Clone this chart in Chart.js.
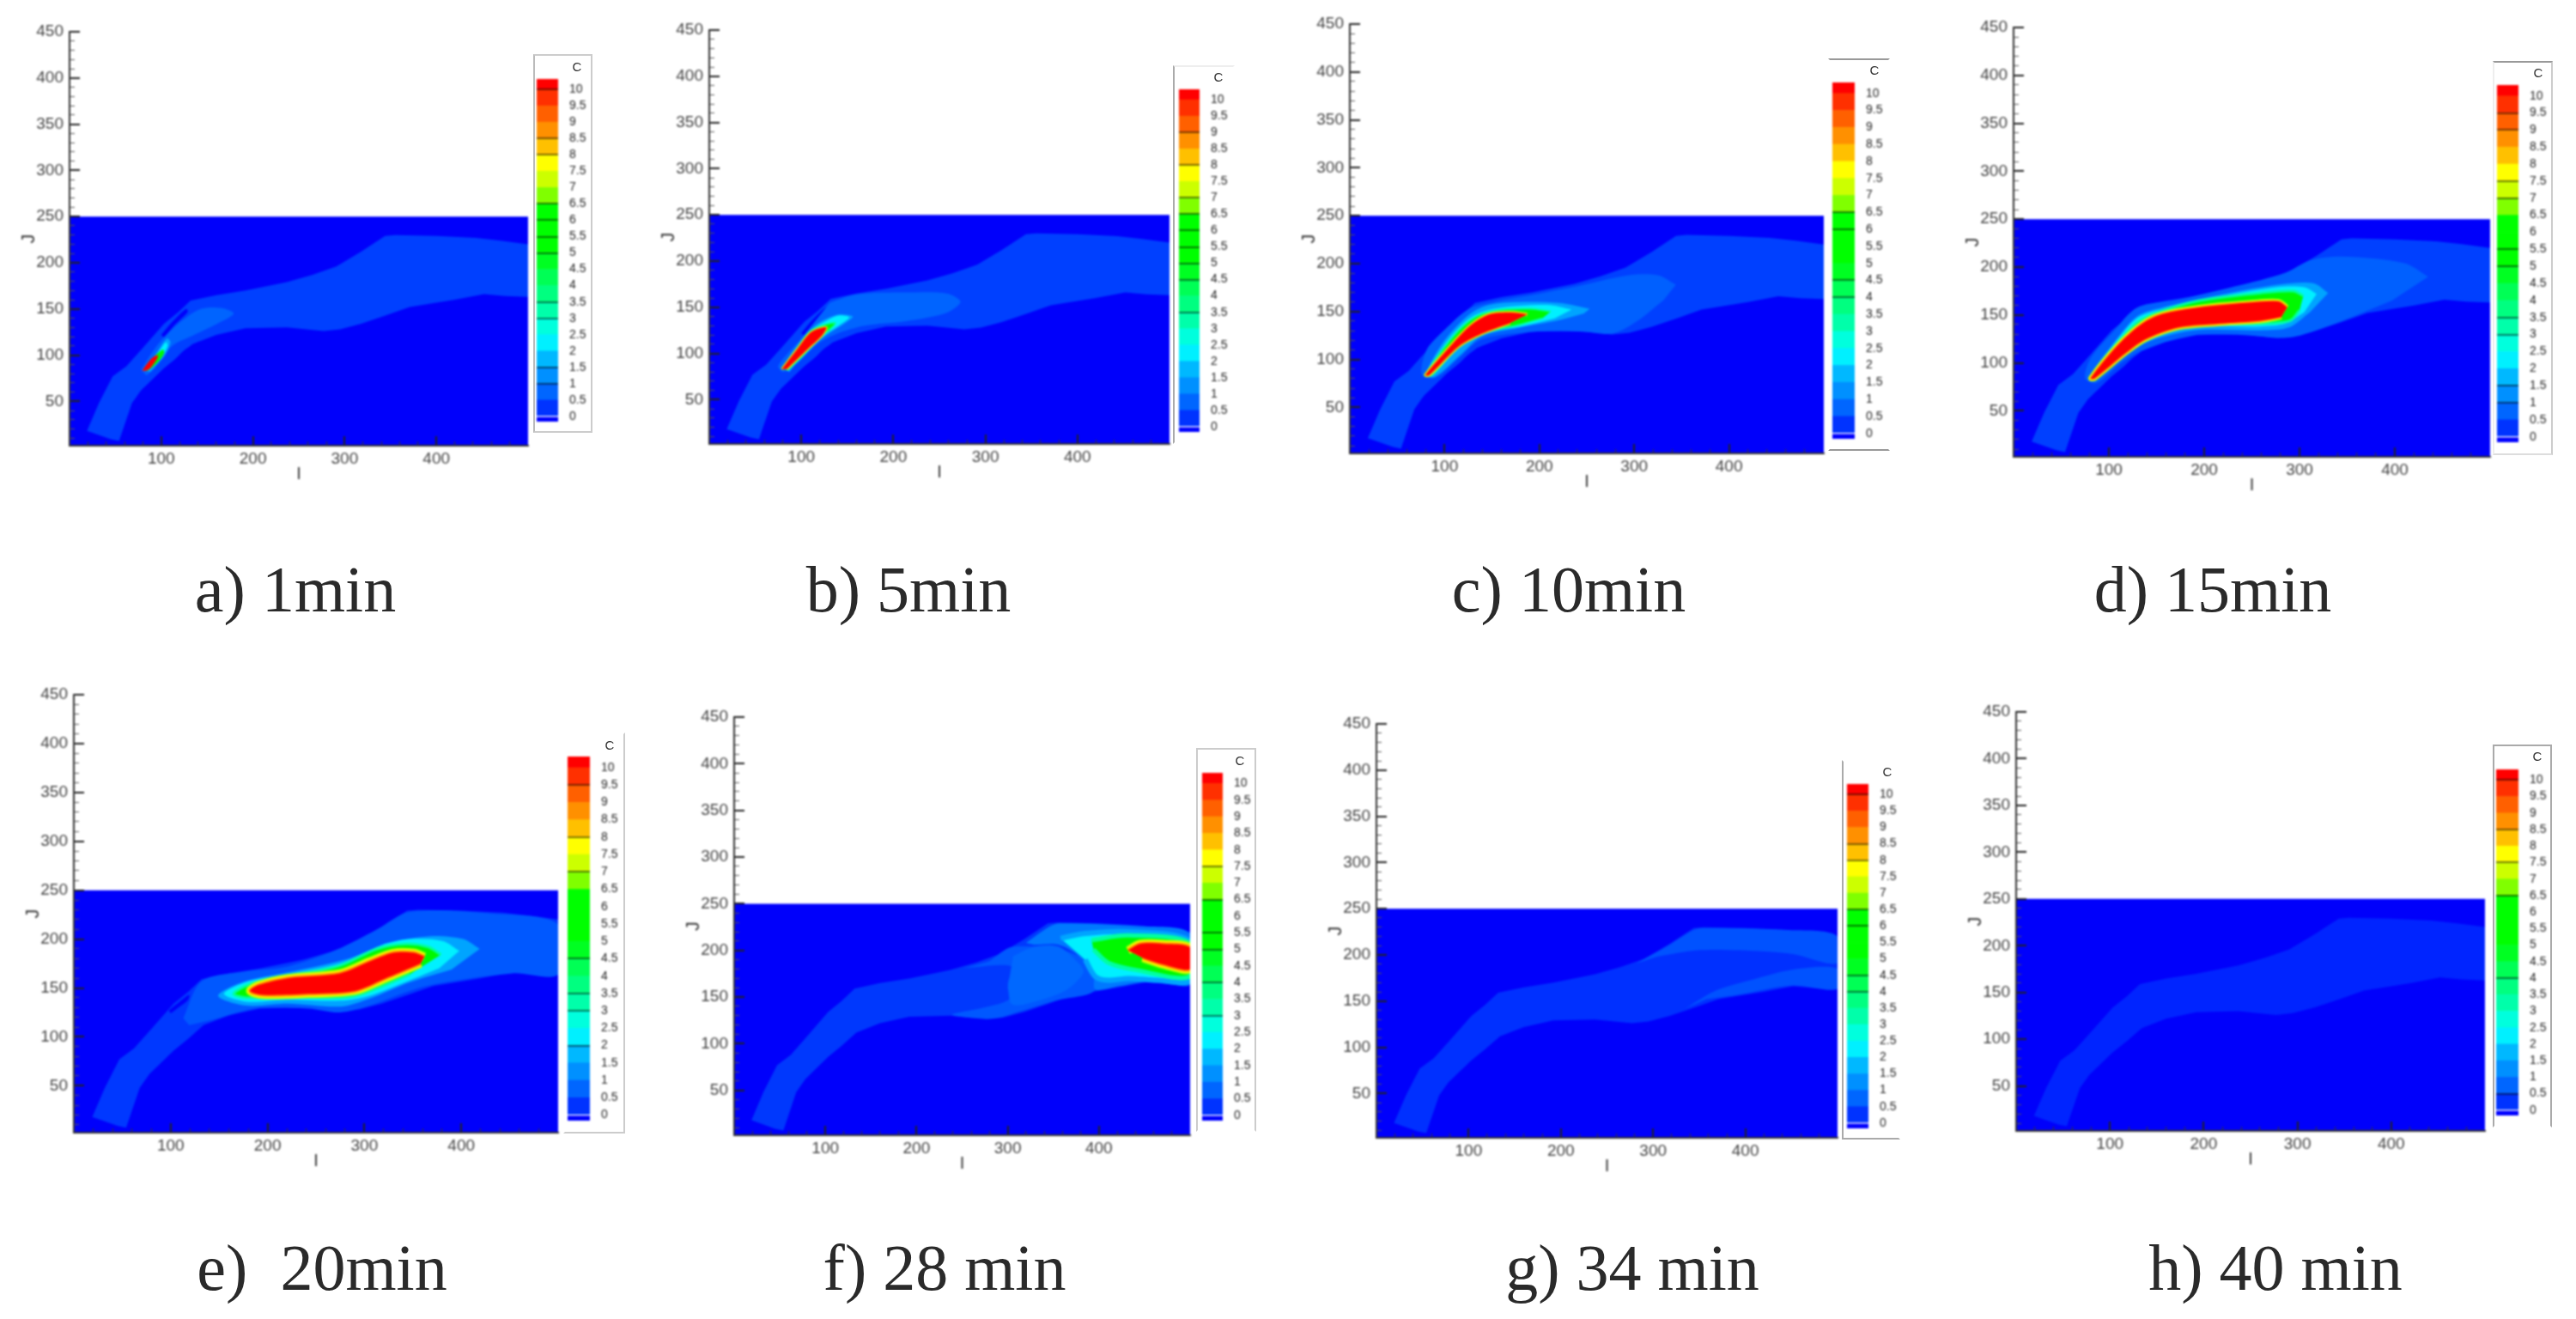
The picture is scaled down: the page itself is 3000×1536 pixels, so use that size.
<!DOCTYPE html>
<html><head><meta charset="utf-8">
<style>
html,body{margin:0;padding:0;background:#fff;width:3000px;height:1536px;overflow:hidden}
canvas{position:absolute;filter:blur(1.1px)}
.cap{position:absolute;font-family:"Liberation Serif",serif;font-size:76px;color:#2a2a2a;white-space:pre;transform:translate(-50%,-50%);line-height:1;filter:blur(.5px)}
.c{position:absolute;font-family:"Liberation Sans",sans-serif;font-size:15px;color:#333;transform:translate(-50%,-50%);filter:blur(.6px)}
.frame{position:absolute;box-sizing:border-box;filter:blur(.6px)}
</style>
<script src="https://cdn.jsdelivr.net/npm/chart.js@4/dist/chart.umd.min.js"></script>
</head><body>
<script>
// ---------- axis values ----------
const X_TICKS=[100,200,300,400];
const X_MINOR=[20,40,60,80,120,140,160,180,220,240,260,280,320,340,360,380,420,440,460,480];
const Y_TICKS=[50,100,150,200,250,300,350,400,450];
const Y_MINOR=[10,20,30,40,60,70,80,90,110,120,130,140,160,170,180,190,210,220,230,240,260,270,280,290,310,320,330,340,360,370,380,390,410,420,430,440];
const C_TICKS=[0,0.5,1,1.5,2,2.5,3,3.5,4,4.5,5,5.5,6,6.5,7,7.5,8,8.5,9,9.5,10];
// ---------- colour bar ----------
const BAND_LOWS=[-0.16,0,0.5,1,1.5,2,2.5,3,3.5,4,4.5,5,5.5,6,6.5,7,7.5,8,8.5,9,9.5,10];
const BAND_HIGHS=[0,0.5,1,1.5,2,2.5,3,3.5,4,4.5,5,5.5,6,6.5,7,7.5,8,8.5,9,9.5,10,10.32];
const BAND_COLORS=['#0000ff','#0033ff','#0066ff','#0090ff','#00b8ff','#00f0ff','#00ffdd','#00ffaa','#00ff80','#00ff55','#00ff22','#00ff00','#00ff00','#00ff00','#80ff00','#ccff00','#ffff00','#ffc000','#ff9000','#ff6000','#ff3000','#ff0000'];
// dark contour lines visible in each colour bar
const DARK_A=[10,8.5,8,6.5,6,5.5,5,3.5,3,1.5,1];
const DARK_B=[9,8,7,6.5,6,5.5,5,4.5,3.5];
const DARK_C=[6.5,6,4.5,4];
const DARK_D=[9.5,9,7.5,7,5.5,5,3.5,3,1.5,1];
const DARK_E=[9.5,8,7,4.5,3.5,3,2];
const DARK_F=[7.5,6.5,5.5,5,4,3];
const DARK_G=[10,8.5,8,6.5,6,4.5,4];
const DARK_H=[10,8.5,7.5,6.5,4,0.5];
// ---------- contour outlines, [I,J] ----------
const domain=[[0,2],[500,2],[500,250],[0,250]];
const plume=[[19,18],[32,48],[47,77],[62,88],[80,108],[103,134],[118,146],[132,159],[160,165],[192,170],[237,179],[265,187],[291,196],[318,212],[344,229],[355,230],[400,229],[443,227],[470,224],[500,220],[500,163],[475,164],[452,166],[420,160],[371,152],[345,143],[318,134],[295,128],[277,126],[237,130],[192,129],[160,122],[134,112],[118,98],[103,86],[78,62],[68,48],[54,7],[45,9]];
const gapUpper=[[100,122],[112,136],[127,150],[129,147],[114,132],[103,119]];
const gapLower=[[112,92],[126,106],[142,115],[138,110],[124,100],[114,88]];

const a_blob=[[78,84],[88,100],[100,116],[121,136],[143,150],[166,151],[179,145],[161,134],[134,121],[112,110],[93,86],[84,78]];
const a_light=[[82,84],[96,104],[106,118],[110,114],[104,100],[88,82]];
const a_cyan=[[82,85],[96,102],[105,114],[107,110],[100,98],[86,84]];
const a_green=[[80,84],[92,98],[102,106],[103,102],[96,92],[85,83]];
const a_red=[[79,83],[89,96],[96,100],[96,97],[88,86],[83,83]];

const b_blob=[[131,155],[160,164],[214,166],[258,165],[273,156],[258,144],[214,135],[169,130],[138,121],[116,109],[93,87],[80,80],[75,87],[100,116]];
const b_light=[[79,84],[92,104],[108,124],[124,136],[140,142],[156,140],[148,133],[132,123],[117,112],[100,96],[87,80]];
const b_cyan=[[79,84],[95,105],[110,124],[125,134],[140,141],[152,139],[142,131],[127,121],[112,107],[95,90],[85,82]];
const b_green=[[79,83],[96,106],[110,124],[125,131],[137,133],[130,125],[118,116],[104,100],[85,82]];
const b_red=[[79,83],[96,105],[111,123],[127,128],[122,119],[107,105],[84,83]];

const c_blob=[[344,178],[325,188],[294,188],[238,176],[191,167],[152,160],[126,153],[100,131],[81,110],[76,84],[91,81],[117,103],[139,121],[195,129],[247,129],[277,127],[303,140],[331,162]];
const c_light=[[253,153],[221,159],[178,160],[147,157],[126,147],[100,120],[80,84],[90,82],[117,105],[139,124],[178,133],[221,141],[247,148]];
const c_cyan=[[234,152],[208,157],[152,153],[128,144],[105,122],[80,84],[88,84],[130,126],[178,134],[216,143]];
const c_green=[[212,150],[190,153],[152,151],[130,143],[109,124],[80,84],[87,84],[113,112],[139,127],[178,136],[203,143]];
const c_red=[[187,147],[169,149],[147,147],[128,136],[109,117],[80,84],[84,84],[115,114],[139,127],[169,138]];

const d_blob=[[435,190],[410,204],[345,211],[311,207],[285,194],[233,180],[173,166],[130,158],[104,132],[81,105],[75,84],[87,79],[113,100],[139,115],[190,129],[242,129],[281,126],[302,129],[345,144],[397,165]];
const d_light=[[330,173],[315,183],[281,182],[216,171],[156,158],[130,149],[109,126],[81,86],[117,108],[143,123],[190,134],[259,134],[289,137],[311,153]];
const d_cyan=[[318,172],[305,179],[276,179],[216,169],[156,156],[130,147],[109,124],[81,85],[115,108],[135,122],[156,132],[195,138],[259,138],[285,141],[305,153]];
const d_green=[[304,170],[294,175],[259,173],[195,165],[147,151],[126,139],[81,85],[130,122],[156,135],[199,141],[259,141],[290,144],[300,155]];
const d_red=[[287,158],[278,164],[250,163],[195,158],[156,151],[135,141],[109,118],[81,84],[85,84],[117,110],[139,125],[173,137],[216,141],[259,144],[281,148]];

const e_blob=[[113,119],[132,157],[178,167],[221,172],[271,189],[313,210],[347,228],[432,226],[500,215],[500,164],[453,165],[364,152],[305,132],[275,125],[242,129],[187,129],[145,118],[119,112]];
const e_light=[[419,190],[402,200],[368,203],[326,196],[280,179],[221,166],[174,156],[149,142],[178,132],[221,134],[276,131],[305,139],[347,156],[390,169]];
const e_cyan=[[398,188],[381,198],[347,200],[318,194],[275,175],[221,164],[178,156],[155,144],[178,136],[221,138],[275,137],[305,142],[347,158],[377,170]];
const e_green=[[379,184],[366,192],[343,195],[313,190],[275,173],[221,162],[182,154],[165,144],[178,140],[221,141],[275,140],[301,145],[347,164]];
const e_red=[[362,182],[351,186],[330,186],[305,177],[275,165],[221,160],[191,153],[182,147],[195,143],[242,144],[290,147],[320,159],[358,175]];
const e_gapUpper=[[98,127],[108,135],[119,143],[118,138],[108,130],[100,124]];
const e_gapLower=[[131,102],[140,111],[152,115],[142,108],[134,100]];

const f_mid=[[252,181],[304,183],[300,164],[302,148],[275,139],[239,131],[284,127],[311,134],[351,146],[396,158],[378,194],[306,204],[279,188]];
const f_blob=[[306,194],[329,204],[356,204],[378,186],[383,176],[365,158],[333,146],[305,142],[300,160]];
const f_hull=[[320,208],[345,225],[356,229],[441,226],[500,218],[500,164],[477,164],[455,167],[423,162],[396,158],[394,174],[378,194],[356,206],[329,206]];
const f_cyan=[[358,213],[383,218],[432,220],[500,210],[500,168],[464,168],[432,170],[410,168],[396,172],[385,190]];
const f_green=[[392,211],[432,216],[500,208],[500,172],[441,179],[410,187],[394,201]];
const f_red=[[432,200],[445,207],[470,207],[500,203],[500,180],[470,185],[448,192]];

const g_upper=[[282,191],[313,208],[342,226],[353,229],[447,227],[499,221],[500,191],[451,201],[393,205],[349,205],[304,198]];
const g_lower=[[335,142],[367,161],[407,173],[451,184],[500,185],[500,163],[451,167],[393,157],[358,152]];

// ---------- where each panel sits on the page ----------
const PANELS=[
 {id:'a',L:81,R:615,T:37,B:519,bar:[625,650,92,491],dark:DARK_A,cap:'a) 1min',capX:344,capY:686,cX:672,cY:77,frame:[621,63,69,441,'#bbb','#ccc','#ccc','#ccc']},
 {id:'b',L:826,R:1362,T:35,B:517,bar:[1373,1397,104,503],dark:DARK_B,cap:'b) 5min',capX:1058,capY:686,cX:1419,cY:89,frame:[1366,76,72,441,'#aaa','#eee','transparent','transparent']},
 {id:'c',L:1572,R:2124,T:28,B:528,bar:[2134,2160,96,511],dark:DARK_C,cap:'c) 10min',capX:1827,capY:686,cX:2183,cY:81,frame:[2129,68,72,457,'transparent','#999','transparent','#999']},
 {id:'d',L:2345,R:2900,T:32,B:532,bar:[2908,2933,99,515],dark:DARK_D,cap:'d) 15min',capX:2577,capY:686,cX:2956,cY:84,frame:[2903,71,70,459,'#eee','#999','#ccc','#ddd']},
 {id:'e',L:86,R:650,T:809,B:1319,bar:[661,687,881,1305],dark:DARK_E,cap:'e)  20min',capX:375,capY:1476,cX:710,cY:867,frame:[656,853,72,467,'transparent','transparent','#ccc','#ccc']},
 {id:'f',L:855,R:1386,T:835,B:1322,bar:[1400,1424,900,1305],dark:DARK_F,cap:'f) 28 min',capX:1100,capY:1476,cX:1444,cY:885,frame:[1393,871,70,447,'#ccc','#ccc','#ccc','transparent']},
 {id:'g',L:1603,R:2140,T:843,B:1325,bar:[2151,2176,913,1314],dark:DARK_G,cap:'g) 34 min',capX:1901,capY:1476,cX:2198,cY:898,frame:[2145,885,68,442,'#aaa','transparent','transparent','#aaa']},
 {id:'h',L:2348,R:2894,T:829,B:1317,bar:[2907,2933,896,1299],dark:DARK_H,cap:'h) 40 min',capX:2650,capY:1476,cX:2955,cY:880,frame:[2903,867,69,446,'#aaa','#aaa','#aaa','transparent']}
];
// ---------- contour colours ----------
const BASE='#0000fb',P0='#0038fd',P1='#0058ff',P2='#0068ff',LIGHT='#00a4ff',CYAN='#00f0ff',SPRING='#00ffa0',GREEN='#00f800',RED='#ff0000';
const hot=(pts,k)=>[['#a0ff00',pts,10*k],['#ffff00',pts,7*k],['#ff9000',pts,4*k],[RED,pts,0]];
const LAYERS={
 a:[[BASE,domain],['#0040ff',plume],[BASE,gapUpper],[BASE,gapLower],['#0064ff',a_blob],['#00a4ff',a_light],[CYAN,a_cyan],[GREEN,a_green],[RED,a_red]],
 b:[[BASE,domain],['#0040ff',plume],[BASE,gapUpper],[BASE,gapLower],['#0064ff',b_blob],[LIGHT,b_light],[CYAN,b_cyan],[GREEN,b_green,2,SPRING],...hot(b_red,.3)],
 c:[[BASE,domain],['#0040ff',plume],[BASE,gapUpper],[BASE,gapLower],['#0060ff',c_blob],[LIGHT,c_light],[CYAN,c_cyan],[GREEN,c_green,2,SPRING],...hot(c_red,.4)],
 d:[[BASE,domain],['#0040ff',plume],[BASE,gapUpper],[BASE,gapLower],['#0060ff',d_blob],[LIGHT,d_light],[CYAN,d_cyan],[GREEN,d_green,3,SPRING],...hot(d_red,.6)],
 e:[[BASE,domain],['#0038ff',plume],[BASE,e_gapUpper],[BASE,e_gapLower],['#0058ff',e_blob],[LIGHT,e_light],[CYAN,e_cyan],[GREEN,e_green,3,SPRING],...hot(e_red,1)],
 f:[[BASE,domain],[P0,plume],[P1,f_mid],[P2,f_blob],['#0078ff',f_hull],[CYAN,f_cyan,6,LIGHT],[GREEN,f_green,5,SPRING],...hot(f_red,1)],
 g:[[BASE,domain],['#0030ff',plume],['#0052ff',g_upper],['#0052ff',g_lower]],
 h:[[BASE,domain],['#0024ff',plume]]
};
// ---------- drawing ----------
const PL=60,PT=34,PR=4,PB=45,BAR_PAD=24,BAR_LABEL=52;
const tickFont={family:'"Liberation Sans",sans-serif',size:19};
const fixed=(ticks)=>(s)=>{s.ticks=ticks.map(v=>({value:v}));};
function addEl(cls,css,text){const d=document.createElement('div');d.className=cls;Object.assign(d.style,css);if(text)d.textContent=text;document.body.appendChild(d);return d;}
function addCanvas(l,t,w,h){const c=document.createElement('canvas');c.width=w;c.height=h;c.style.left=l+'px';c.style.top=t+'px';document.body.appendChild(c);return c;}

PANELS.forEach(p=>{
 const f=p.frame;
 addEl('frame',{left:f[0]+'px',top:f[1]+'px',width:f[2]+'px',height:f[3]+'px',borderStyle:'solid',borderWidth:'2px',borderColor:`${f[5]} ${f[6]} ${f[7]} ${f[4]}`});
 addEl('cap',{left:p.capX+'px',top:p.capY+'px'},p.cap);
 addEl('c',{left:p.cX+'px',top:p.cY+'px'},'C');

 const layers=LAYERS[p.id];
 const datasets=layers.map((l,i)=>({
   data:l[1].map(q=>({x:q[0],y:q[1]})),showLine:true,fill:'shape',backgroundColor:l[0],
   borderColor:l[3]||l[0],borderWidth:l[2]||0,pointRadius:0,tension:i>1?0.3:0,
   xAxisID:'x',yAxisID:'y',order:layers.length-i
 }));
 const cv=addCanvas(p.L-PL,p.T-PT,p.R-p.L+PL+PR,p.B-p.T+PT+PB);
 new Chart(cv,{type:'scatter',data:{datasets},options:{
   responsive:false,animation:false,events:[],
   layout:{autoPadding:false,padding:{left:0,top:PT,right:PR,bottom:0}},
   plugins:{legend:{display:false},tooltip:{enabled:false},title:{display:false}},
   scales:{
    x:{type:'linear',position:'bottom',min:0,max:500,afterBuildTicks:fixed(X_TICKS),afterFit:s=>{s.height=PB;},
       border:{color:'#333',width:2,z:2},grid:{drawOnChartArea:false,drawTicks:true,tickLength:-11,color:'#222',lineWidth:2,z:1},
       ticks:{color:'#444',font:tickFont,padding:15,maxRotation:0,autoSkip:false,callback:v=>String(v)},
       title:{display:true,text:'I',color:'#333',font:{family:'"Liberation Sans",sans-serif',size:20},padding:0}},
    y:{type:'linear',position:'left',min:2,max:450,afterBuildTicks:fixed(Y_TICKS),afterFit:s=>{s.width=PL;},
       border:{color:'#333',width:2,z:2},grid:{drawOnChartArea:false,drawTicks:true,tickLength:-12,color:'#222',lineWidth:2,z:1},
       ticks:{color:'#444',font:tickFont,padding:19,autoSkip:false,callback:v=>String(v)},
       title:{display:true,text:'J',color:'#333',font:{family:'"Liberation Sans",sans-serif',size:22},padding:0}},
    xMinor:{type:'linear',position:'bottom',weight:-1,min:0,max:500,afterBuildTicks:fixed(X_MINOR),afterFit:s=>{s.height=0;},
       border:{display:false},grid:{drawOnChartArea:false,drawTicks:true,tickLength:-5,color:'#333',lineWidth:1,z:1},ticks:{display:false,autoSkip:false}},
    yMinor:{type:'linear',position:'left',weight:-1,min:2,max:450,afterBuildTicks:fixed(Y_MINOR),afterFit:s=>{s.width=0;},
       border:{display:false},grid:{drawOnChartArea:false,drawTicks:true,tickLength:-6,color:'#555',lineWidth:1,z:1},ticks:{display:false,autoSkip:false}}
   }}});

 const b=p.bar,bw=b[1]-b[0],bh=b[3]-b[2];
 const cb=addCanvas(b[0],b[2]-BAR_PAD,bw+BAR_LABEL,bh+2*BAR_PAD);
 new Chart(cb,{type:'bar',data:{labels:['C'],datasets:BAND_COLORS.map((c,i)=>({
    data:[[BAND_LOWS[i],BAND_HIGHS[i]]],backgroundColor:c,borderWidth:0,barPercentage:1,categoryPercentage:1,grouped:false}))},
   options:{responsive:false,animation:false,events:[],
    layout:{autoPadding:false,padding:{left:0,top:BAR_PAD,right:0,bottom:BAR_PAD}},
    plugins:{legend:{display:false},tooltip:{enabled:false}},
    scales:{
     x:{display:false},
     y:{position:'right',min:-0.16,max:10.32,afterBuildTicks:fixed(C_TICKS),afterFit:s=>{s.width=BAR_LABEL;},
        border:{display:false},
        grid:{drawTicks:false,z:1,lineWidth:2,color:c=>p.dark.includes(c.tick.value)?'rgba(0,0,0,.5)':'rgba(0,0,0,0)'},
        ticks:{color:'#222',font:{family:'"Liberation Sans",sans-serif',size:14},padding:13,autoSkip:false,callback:v=>String(v)}}
    }}});
});
</script>
</body></html>
